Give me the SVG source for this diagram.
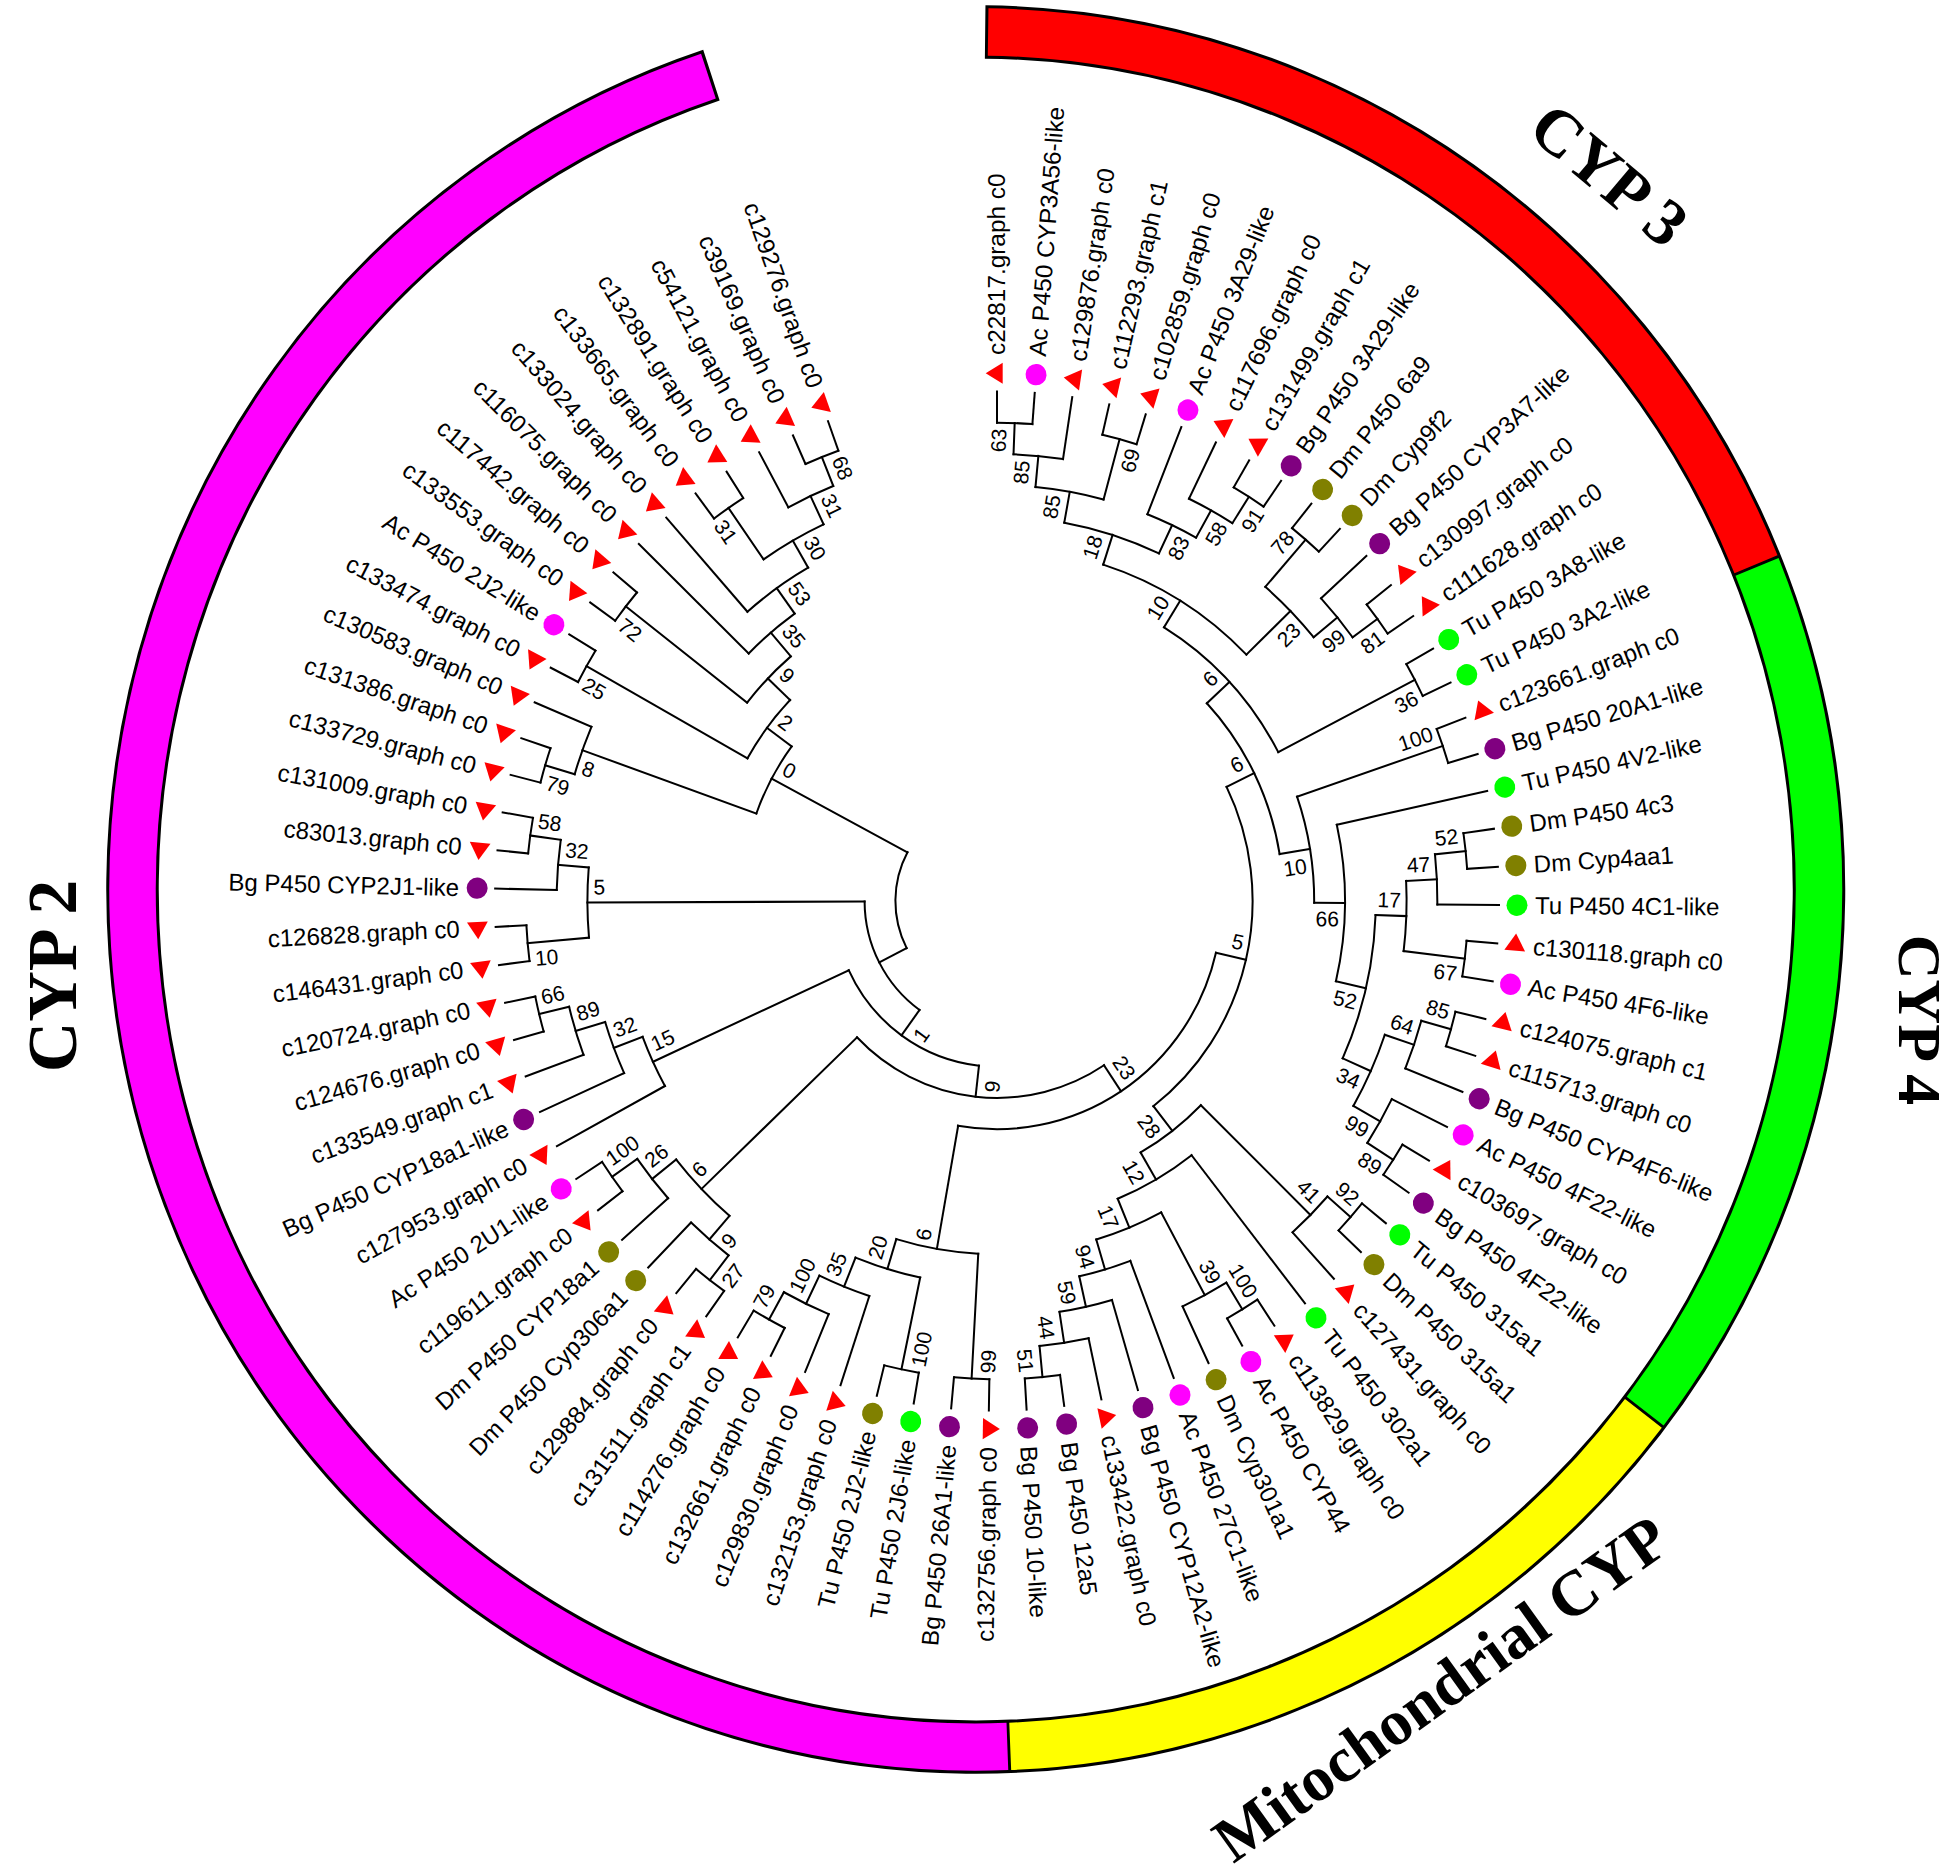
<svg xmlns="http://www.w3.org/2000/svg" xmlns:xlink="http://www.w3.org/1999/xlink" width="1955" height="1872" viewBox="0 0 1955 1872">
<style>
.c line,.c circle{fill:none;stroke:#000;stroke-width:2;stroke-linecap:square}
.lb{font-family:"Liberation Sans",Arial,sans-serif;font-size:24px;fill:#000}
.bs{font-family:"Liberation Sans",Arial,sans-serif;font-size:21px;fill:#000}
.en{text-anchor:end}
.st{text-anchor:start}
.m{fill:#f0f}.p{fill:#800080}.o{fill:#808000}.g{fill:#0f0}
.gt{font-family:"Liberation Serif","Times New Roman",serif;font-weight:bold;fill:#000;text-anchor:middle}
.rg circle{fill:none}
</style>
<defs>
<path id="tri" d="M0,-11.3 L10.4,5.7 L-10.4,5.7 Z" fill="#f00"/>
</defs>
<rect width="1955" height="1872" fill="#fff"/>
<g id="ring" class="rg" transform="translate(975.75 889.5) scale(1 1.017)">
<circle r="843.25" stroke="#000" stroke-width="52.5" stroke-dasharray="5019.5 9000" transform="rotate(-89.36)"/>
<circle r="843.25" stroke="#f00" stroke-width="46.5" stroke-dasharray="984 9000" transform="rotate(-89.16)"/>
<circle r="843.25" stroke="#0f0" stroke-width="46.5" stroke-dasharray="876.4 9000" transform="rotate(-22.1)"/>
<circle r="843.25" stroke="#ff0" stroke-width="46.5" stroke-dasharray="735.9 9000" transform="rotate(37.65)"/>
<circle r="843.25" stroke="#f0f" stroke-width="46.5" stroke-dasharray="2408.5 9000" transform="rotate(87.85)"/>
</g>
<g id="group-labels">
<text id="lab-cyp3" class="gt" font-size="66" dy=".33em" transform="translate(1609 175) rotate(40)">CYP 3</text>
<text id="lab-cyp4" class="gt" font-size="62" transform="translate(1899 1020) rotate(90)">CYP 4</text>
<text id="lab-cyp2" class="gt" font-size="70" transform="translate(76 976) rotate(-90)">CYP 2</text>
<text id="lab-mito" class="gt" font-size="64" dy=".33em" transform="translate(1441 1689) rotate(-35.7)">Mitochondrial CYP</text>
</g>
<g id="tree" transform="translate(997 901) scale(1 1.015)">
<g id="connectors" class="c">
<circle r="471.2" stroke-dasharray="35.43 4000" transform="rotate(-90)"/>
<line x1="471.2" x2="502" transform="rotate(-90)"/><line x1="471.2" x2="502" transform="rotate(-85.69)"/>
<circle r="440.4" stroke-dasharray="49.73 4000" transform="rotate(-87.85)"/>
<line x1="440.4" x2="471.2" transform="rotate(-87.85)"/><line x1="440.4" x2="502" transform="rotate(-81.38)"/>
<circle r="471.2" stroke-dasharray="35.43 4000" transform="rotate(-77.08)"/>
<line x1="471.2" x2="502" transform="rotate(-77.08)"/><line x1="471.2" x2="502" transform="rotate(-72.77)"/>
<circle r="409.6" stroke-dasharray="69.27 4000" transform="rotate(-84.61)"/>
<line x1="409.6" x2="440.4" transform="rotate(-84.61)"/><line x1="409.6" x2="471.2" transform="rotate(-74.92)"/>
<circle r="471.2" stroke-dasharray="35.43 4000" transform="rotate(-59.85)"/>
<line x1="471.2" x2="502" transform="rotate(-59.85)"/><line x1="471.2" x2="502" transform="rotate(-55.54)"/>
<circle r="440.4" stroke-dasharray="49.65 4000" transform="rotate(-64.15)"/>
<line x1="440.4" x2="502" transform="rotate(-64.15)"/><line x1="440.4" x2="471.2" transform="rotate(-57.69)"/>
<circle r="409.6" stroke-dasharray="53.90 4000" transform="rotate(-68.46)"/>
<line x1="409.6" x2="502" transform="rotate(-68.46)"/><line x1="409.6" x2="440.4" transform="rotate(-60.92)"/>
<circle r="378.8" stroke-dasharray="99.70 4000" transform="rotate(-79.77)"/>
<line x1="378.8" x2="409.6" transform="rotate(-79.77)"/><line x1="378.8" x2="409.6" transform="rotate(-64.69)"/>
<circle r="471.2" stroke-dasharray="35.43 4000" transform="rotate(-51.23)"/>
<line x1="471.2" x2="502" transform="rotate(-51.23)"/><line x1="471.2" x2="502" transform="rotate(-46.92)"/>
<circle r="471.2" stroke-dasharray="35.43 4000" transform="rotate(-38.31)"/>
<line x1="471.2" x2="502" transform="rotate(-38.31)"/><line x1="471.2" x2="502" transform="rotate(-34)"/>
<circle r="440.4" stroke-dasharray="49.73 4000" transform="rotate(-42.62)"/>
<line x1="440.4" x2="502" transform="rotate(-42.62)"/><line x1="440.4" x2="471.2" transform="rotate(-36.15)"/>
<circle r="409.6" stroke-dasharray="69.34 4000" transform="rotate(-49.08)"/>
<line x1="409.6" x2="471.2" transform="rotate(-49.08)"/><line x1="409.6" x2="440.4" transform="rotate(-39.38)"/>
<circle r="348" stroke-dasharray="170.06 4000" transform="rotate(-72.23)"/>
<line x1="348" x2="378.8" transform="rotate(-72.23)"/><line x1="348" x2="409.6" transform="rotate(-44.23)"/>
<circle r="471.2" stroke-dasharray="35.43 4000" transform="rotate(-29.69)"/>
<line x1="471.2" x2="502" transform="rotate(-29.69)"/><line x1="471.2" x2="502" transform="rotate(-25.38)"/>
<circle r="317.2" stroke-dasharray="169.91 4000" transform="rotate(-58.23)"/>
<line x1="317.2" x2="348" transform="rotate(-58.23)"/><line x1="317.2" x2="471.2" transform="rotate(-27.54)"/>
<circle r="471.2" stroke-dasharray="35.43 4000" transform="rotate(-21.08)"/>
<line x1="471.2" x2="502" transform="rotate(-21.08)"/><line x1="471.2" x2="502" transform="rotate(-16.77)"/>
<circle r="471.2" stroke-dasharray="35.43 4000" transform="rotate(-8.15)"/>
<line x1="471.2" x2="502" transform="rotate(-8.15)"/><line x1="471.2" x2="502" transform="rotate(-3.85)"/>
<circle r="440.4" stroke-dasharray="49.65 4000" transform="rotate(-6)"/>
<line x1="440.4" x2="471.2" transform="rotate(-6)"/><line x1="440.4" x2="502" transform="rotate(0.46)"/>
<circle r="471.2" stroke-dasharray="35.43 4000" transform="rotate(4.77)"/>
<line x1="471.2" x2="502" transform="rotate(4.77)"/><line x1="471.2" x2="502" transform="rotate(9.08)"/>
<circle r="409.6" stroke-dasharray="69.27 4000" transform="rotate(-2.77)"/>
<line x1="409.6" x2="440.4" transform="rotate(-2.77)"/><line x1="409.6" x2="471.2" transform="rotate(6.92)"/>
<circle r="471.2" stroke-dasharray="35.43 4000" transform="rotate(13.38)"/>
<line x1="471.2" x2="502" transform="rotate(13.38)"/><line x1="471.2" x2="502" transform="rotate(17.69)"/>
<circle r="440.4" stroke-dasharray="49.65 4000" transform="rotate(15.54)"/>
<line x1="440.4" x2="471.2" transform="rotate(15.54)"/><line x1="440.4" x2="502" transform="rotate(22)"/>
<circle r="471.2" stroke-dasharray="35.43 4000" transform="rotate(30.62)"/>
<line x1="471.2" x2="502" transform="rotate(30.62)"/><line x1="471.2" x2="502" transform="rotate(34.92)"/>
<circle r="440.4" stroke-dasharray="49.65 4000" transform="rotate(26.31)"/>
<line x1="440.4" x2="502" transform="rotate(26.31)"/><line x1="440.4" x2="471.2" transform="rotate(32.77)"/>
<circle r="409.6" stroke-dasharray="76.99 4000" transform="rotate(18.77)"/>
<line x1="409.6" x2="440.4" transform="rotate(18.77)"/><line x1="409.6" x2="440.4" transform="rotate(29.54)"/>
<circle r="378.8" stroke-dasharray="145.91 4000" transform="rotate(2.08)"/>
<line x1="378.8" x2="409.6" transform="rotate(2.08)"/><line x1="378.8" x2="409.6" transform="rotate(24.15)"/>
<circle r="348" stroke-dasharray="155.37 4000" transform="rotate(-12.46)"/>
<line x1="348" x2="502" transform="rotate(-12.46)"/><line x1="348" x2="378.8" transform="rotate(13.12)"/>
<circle r="317.2" stroke-dasharray="106.57 4000" transform="rotate(-18.92)"/>
<line x1="317.2" x2="471.2" transform="rotate(-18.92)"/><line x1="317.2" x2="348" transform="rotate(0.33)"/>
<circle r="286.4" stroke-dasharray="167.85 4000" transform="rotate(-42.88)"/>
<line x1="286.4" x2="317.2" transform="rotate(-42.88)"/><line x1="286.4" x2="317.2" transform="rotate(-9.3)"/>
<circle r="471.2" stroke-dasharray="35.43 4000" transform="rotate(39.23)"/>
<line x1="471.2" x2="502" transform="rotate(39.23)"/><line x1="471.2" x2="502" transform="rotate(43.54)"/>
<circle r="440.4" stroke-dasharray="49.73 4000" transform="rotate(41.38)"/>
<line x1="440.4" x2="471.2" transform="rotate(41.38)"/><line x1="440.4" x2="502" transform="rotate(47.85)"/>
<circle r="471.2" stroke-dasharray="35.43 4000" transform="rotate(82.31)"/>
<line x1="471.2" x2="502" transform="rotate(82.31)"/><line x1="471.2" x2="502" transform="rotate(86.62)"/>
<circle r="440.4" stroke-dasharray="49.65 4000" transform="rotate(78)"/>
<line x1="440.4" x2="502" transform="rotate(78)"/><line x1="440.4" x2="471.2" transform="rotate(84.46)"/>
<circle r="409.6" stroke-dasharray="53.83 4000" transform="rotate(73.7)"/>
<line x1="409.6" x2="502" transform="rotate(73.7)"/><line x1="409.6" x2="440.4" transform="rotate(81.23)"/>
<circle r="378.8" stroke-dasharray="53.35 4000" transform="rotate(69.39)"/>
<line x1="378.8" x2="502" transform="rotate(69.39)"/><line x1="378.8" x2="409.6" transform="rotate(77.46)"/>
<circle r="471.2" stroke-dasharray="35.43 4000" transform="rotate(56.46)"/>
<line x1="471.2" x2="502" transform="rotate(56.46)"/><line x1="471.2" x2="502" transform="rotate(60.77)"/>
<circle r="440.4" stroke-dasharray="49.65 4000" transform="rotate(58.62)"/>
<line x1="440.4" x2="471.2" transform="rotate(58.62)"/><line x1="440.4" x2="502" transform="rotate(65.08)"/>
<circle r="348" stroke-dasharray="70.33 4000" transform="rotate(61.85)"/>
<line x1="348" x2="440.4" transform="rotate(61.85)"/><line x1="348" x2="378.8" transform="rotate(73.43)"/>
<circle r="317.2" stroke-dasharray="85.70 4000" transform="rotate(52.16)"/>
<line x1="317.2" x2="502" transform="rotate(52.16)"/><line x1="317.2" x2="348" transform="rotate(67.64)"/>
<circle r="286.4" stroke-dasharray="76.38 4000" transform="rotate(44.62)"/>
<line x1="286.4" x2="440.4" transform="rotate(44.62)"/><line x1="286.4" x2="317.2" transform="rotate(59.9)"/>
<circle r="255.6" stroke-dasharray="349.53 4000" transform="rotate(-26.09)"/>
<line x1="255.6" x2="286.4" transform="rotate(-26.09)"/><line x1="255.6" x2="286.4" transform="rotate(52.26)"/>
<circle r="471.2" stroke-dasharray="35.43 4000" transform="rotate(90.93)"/>
<line x1="471.2" x2="502" transform="rotate(90.93)"/><line x1="471.2" x2="502" transform="rotate(95.24)"/>
<circle r="471.2" stroke-dasharray="35.43 4000" transform="rotate(99.55)"/>
<line x1="471.2" x2="502" transform="rotate(99.55)"/><line x1="471.2" x2="502" transform="rotate(103.85)"/>
<circle r="471.2" stroke-dasharray="35.43 4000" transform="rotate(116.78)"/>
<line x1="471.2" x2="502" transform="rotate(116.78)"/><line x1="471.2" x2="502" transform="rotate(121.09)"/>
<circle r="440.4" stroke-dasharray="49.73 4000" transform="rotate(112.47)"/>
<line x1="440.4" x2="502" transform="rotate(112.47)"/><line x1="440.4" x2="471.2" transform="rotate(118.94)"/>
<circle r="409.6" stroke-dasharray="53.90 4000" transform="rotate(108.16)"/>
<line x1="409.6" x2="502" transform="rotate(108.16)"/><line x1="409.6" x2="440.4" transform="rotate(115.7)"/>
<circle r="378.8" stroke-dasharray="67.63 4000" transform="rotate(101.7)"/>
<line x1="378.8" x2="471.2" transform="rotate(101.7)"/><line x1="378.8" x2="409.6" transform="rotate(111.93)"/>
<circle r="348" stroke-dasharray="83.39 4000" transform="rotate(93.09)"/>
<line x1="348" x2="471.2" transform="rotate(93.09)"/><line x1="348" x2="378.8" transform="rotate(106.82)"/>
<circle r="224.8" stroke-dasharray="340.80 4000" transform="rotate(13.09)"/>
<line x1="224.8" x2="255.6" transform="rotate(13.09)"/><line x1="224.8" x2="348" transform="rotate(99.95)"/>
<circle r="471.2" stroke-dasharray="35.43 4000" transform="rotate(125.39)"/>
<line x1="471.2" x2="502" transform="rotate(125.39)"/><line x1="471.2" x2="502" transform="rotate(129.7)"/>
<circle r="440.4" stroke-dasharray="49.65 4000" transform="rotate(127.55)"/>
<line x1="440.4" x2="471.2" transform="rotate(127.55)"/><line x1="440.4" x2="502" transform="rotate(134.01)"/>
<circle r="471.2" stroke-dasharray="35.43 4000" transform="rotate(142.63)"/>
<line x1="471.2" x2="502" transform="rotate(142.63)"/><line x1="471.2" x2="502" transform="rotate(146.94)"/>
<circle r="440.4" stroke-dasharray="49.65 4000" transform="rotate(138.32)"/>
<line x1="440.4" x2="502" transform="rotate(138.32)"/><line x1="440.4" x2="471.2" transform="rotate(144.78)"/>
<circle r="409.6" stroke-dasharray="76.99 4000" transform="rotate(130.78)"/>
<line x1="409.6" x2="440.4" transform="rotate(130.78)"/><line x1="409.6" x2="440.4" transform="rotate(141.55)"/>
<circle r="194" stroke-dasharray="269.69 4000" transform="rotate(56.52)"/>
<line x1="194" x2="224.8" transform="rotate(56.52)"/><line x1="194" x2="409.6" transform="rotate(136.17)"/>
<circle r="471.2" stroke-dasharray="35.43 4000" transform="rotate(164.17)"/>
<line x1="471.2" x2="502" transform="rotate(164.17)"/><line x1="471.2" x2="502" transform="rotate(168.48)"/>
<circle r="440.4" stroke-dasharray="49.65 4000" transform="rotate(159.86)"/>
<line x1="440.4" x2="502" transform="rotate(159.86)"/><line x1="440.4" x2="471.2" transform="rotate(166.32)"/>
<circle r="409.6" stroke-dasharray="53.90 4000" transform="rotate(155.55)"/>
<line x1="409.6" x2="502" transform="rotate(155.55)"/><line x1="409.6" x2="440.4" transform="rotate(163.09)"/>
<circle r="378.8" stroke-dasharray="53.42 4000" transform="rotate(151.24)"/>
<line x1="378.8" x2="502" transform="rotate(151.24)"/><line x1="378.8" x2="409.6" transform="rotate(159.32)"/>
<circle r="163.2" stroke-dasharray="167.88 4000" transform="rotate(96.34)"/>
<line x1="163.2" x2="194" transform="rotate(96.34)"/><line x1="163.2" x2="378.8" transform="rotate(155.28)"/>
<circle r="471.2" stroke-dasharray="35.43 4000" transform="rotate(172.78)"/>
<line x1="471.2" x2="502" transform="rotate(172.78)"/><line x1="471.2" x2="502" transform="rotate(177.09)"/>
<circle r="471.2" stroke-dasharray="35.43 4000" transform="rotate(185.71)"/>
<line x1="471.2" x2="502" transform="rotate(185.71)"/><line x1="471.2" x2="502" transform="rotate(190.02)"/>
<circle r="440.4" stroke-dasharray="49.73 4000" transform="rotate(181.4)"/>
<line x1="440.4" x2="502" transform="rotate(181.4)"/><line x1="440.4" x2="471.2" transform="rotate(187.87)"/>
<circle r="409.6" stroke-dasharray="69.27 4000" transform="rotate(174.94)"/>
<line x1="409.6" x2="471.2" transform="rotate(174.94)"/><line x1="409.6" x2="440.4" transform="rotate(184.63)"/>
<circle r="132.4" stroke-dasharray="124.74 4000" transform="rotate(125.81)"/>
<line x1="132.4" x2="163.2" transform="rotate(125.81)"/><line x1="132.4" x2="409.6" transform="rotate(179.79)"/>
<circle r="471.2" stroke-dasharray="35.43 4000" transform="rotate(194.33)"/>
<line x1="471.2" x2="502" transform="rotate(194.33)"/><line x1="471.2" x2="502" transform="rotate(198.63)"/>
<circle r="440.4" stroke-dasharray="49.65 4000" transform="rotate(196.48)"/>
<line x1="440.4" x2="471.2" transform="rotate(196.48)"/><line x1="440.4" x2="502" transform="rotate(202.94)"/>
<circle r="471.2" stroke-dasharray="35.43 4000" transform="rotate(207.25)"/>
<line x1="471.2" x2="502" transform="rotate(207.25)"/><line x1="471.2" x2="502" transform="rotate(211.56)"/>
<circle r="471.2" stroke-dasharray="35.43 4000" transform="rotate(215.87)"/>
<line x1="471.2" x2="502" transform="rotate(215.87)"/><line x1="471.2" x2="502" transform="rotate(220.17)"/>
<circle r="471.2" stroke-dasharray="35.43 4000" transform="rotate(233.1)"/>
<line x1="471.2" x2="502" transform="rotate(233.1)"/><line x1="471.2" x2="502" transform="rotate(237.41)"/>
<circle r="471.2" stroke-dasharray="35.43 4000" transform="rotate(246.02)"/>
<line x1="471.2" x2="502" transform="rotate(246.02)"/><line x1="471.2" x2="502" transform="rotate(250.33)"/>
<circle r="440.4" stroke-dasharray="49.65 4000" transform="rotate(241.72)"/>
<line x1="440.4" x2="502" transform="rotate(241.72)"/><line x1="440.4" x2="471.2" transform="rotate(248.18)"/>
<circle r="409.6" stroke-dasharray="69.27 4000" transform="rotate(235.26)"/>
<line x1="409.6" x2="471.2" transform="rotate(235.26)"/><line x1="409.6" x2="440.4" transform="rotate(244.95)"/>
<circle r="378.8" stroke-dasharray="74.77 4000" transform="rotate(228.79)"/>
<line x1="378.8" x2="502" transform="rotate(228.79)"/><line x1="378.8" x2="409.6" transform="rotate(240.1)"/>
<circle r="348" stroke-dasharray="60.55 4000" transform="rotate(224.48)"/>
<line x1="348" x2="502" transform="rotate(224.48)"/><line x1="348" x2="378.8" transform="rotate(234.45)"/>
<circle r="317.2" stroke-dasharray="63.33 4000" transform="rotate(218.02)"/>
<line x1="317.2" x2="471.2" transform="rotate(218.02)"/><line x1="317.2" x2="348" transform="rotate(229.46)"/>
<circle r="286.4" stroke-dasharray="71.68 4000" transform="rotate(209.4)"/>
<line x1="286.4" x2="471.2" transform="rotate(209.4)"/><line x1="286.4" x2="317.2" transform="rotate(223.74)"/>
<circle r="255.6" stroke-dasharray="75.21 4000" transform="rotate(199.71)"/>
<line x1="255.6" x2="440.4" transform="rotate(199.71)"/><line x1="255.6" x2="286.4" transform="rotate(216.57)"/>
<circle r="101.6" stroke-dasharray="98.13 4000" transform="rotate(152.8)"/>
<line x1="101.6" x2="132.4" transform="rotate(152.8)"/><line x1="101.6" x2="255.6" transform="rotate(208.14)"/>
</g>
<g id="leaves">
<g id="L1" transform="rotate(-90)"><use xlink:href="#tri" x="520"/><text class="lb" x="538" dy=".35em">c22817.graph c0</text></g>
<g id="L2" transform="rotate(-85.69)"><circle class="m" cx="520" r="10.5"/><text class="lb" x="538" dy=".35em">Ac P450 CYP3A56-like</text></g>
<g id="L3" transform="rotate(-81.38)"><use xlink:href="#tri" x="520"/><text class="lb" x="538" dy=".35em">c129876.graph c0</text></g>
<g id="L4" transform="rotate(-77.08)"><use xlink:href="#tri" x="520"/><text class="lb" x="538" dy=".35em">c112293.graph c1</text></g>
<g id="L5" transform="rotate(-72.77)"><use xlink:href="#tri" x="520"/><text class="lb" x="538" dy=".35em">c102859.graph c0</text></g>
<g id="L6" transform="rotate(-68.46)"><circle class="m" cx="520" r="10.5"/><text class="lb" x="538" dy=".35em">Ac P450 3A29-like</text></g>
<g id="L7" transform="rotate(-64.15)"><use xlink:href="#tri" x="520"/><text class="lb" x="538" dy=".35em">c117696.graph c0</text></g>
<g id="L8" transform="rotate(-59.85)"><use xlink:href="#tri" x="520"/><text class="lb" x="538" dy=".35em">c131499.graph c1</text></g>
<g id="L9" transform="rotate(-55.54)"><circle class="p" cx="520" r="10.5"/><text class="lb" x="538" dy=".35em">Bg P450 3A29-like</text></g>
<g id="L10" transform="rotate(-51.23)"><circle class="o" cx="520" r="10.5"/><text class="lb" x="538" dy=".35em">Dm P450 6a9</text></g>
<g id="L11" transform="rotate(-46.92)"><circle class="o" cx="520" r="10.5"/><text class="lb" x="538" dy=".35em">Dm Cyp9f2</text></g>
<g id="L12" transform="rotate(-42.62)"><circle class="p" cx="520" r="10.5"/><text class="lb" x="538" dy=".35em">Bg P450 CYP3A7-like</text></g>
<g id="L13" transform="rotate(-38.31)"><use xlink:href="#tri" x="520"/><text class="lb" x="538" dy=".35em">c130997.graph c0</text></g>
<g id="L14" transform="rotate(-34)"><use xlink:href="#tri" x="520"/><text class="lb" x="538" dy=".35em">c111628.graph c0</text></g>
<g id="L15" transform="rotate(-29.69)"><circle class="g" cx="520" r="10.5"/><text class="lb" x="538" dy=".35em">Tu P450 3A8-like</text></g>
<g id="L16" transform="rotate(-25.38)"><circle class="g" cx="520" r="10.5"/><text class="lb" x="538" dy=".35em">Tu P450 3A2-like</text></g>
<g id="L17" transform="rotate(-21.08)"><use xlink:href="#tri" x="520"/><text class="lb" x="538" dy=".35em">c123661.graph c0</text></g>
<g id="L18" transform="rotate(-16.77)"><circle class="p" cx="520" r="10.5"/><text class="lb" x="538" dy=".35em">Bg P450 20A1-like</text></g>
<g id="L19" transform="rotate(-12.46)"><circle class="g" cx="520" r="10.5"/><text class="lb" x="538" dy=".35em">Tu P450 4V2-like</text></g>
<g id="L20" transform="rotate(-8.15)"><circle class="o" cx="520" r="10.5"/><text class="lb" x="538" dy=".35em">Dm P450 4c3</text></g>
<g id="L21" transform="rotate(-3.85)"><circle class="o" cx="520" r="10.5"/><text class="lb" x="538" dy=".35em">Dm Cyp4aa1</text></g>
<g id="L22" transform="rotate(0.46)"><circle class="g" cx="520" r="10.5"/><text class="lb" x="538" dy=".35em">Tu P450 4C1-like</text></g>
<g id="L23" transform="rotate(4.77)"><use xlink:href="#tri" x="520"/><text class="lb" x="538" dy=".35em">c130118.graph c0</text></g>
<g id="L24" transform="rotate(9.08)"><circle class="m" cx="520" r="10.5"/><text class="lb" x="538" dy=".35em">Ac P450 4F6-like</text></g>
<g id="L25" transform="rotate(13.38)"><use xlink:href="#tri" x="520"/><text class="lb" x="538" dy=".35em">c124075.graph c1</text></g>
<g id="L26" transform="rotate(17.69)"><use xlink:href="#tri" x="520"/><text class="lb" x="538" dy=".35em">c115713.graph c0</text></g>
<g id="L27" transform="rotate(22)"><circle class="p" cx="520" r="10.5"/><text class="lb" x="538" dy=".35em">Bg P450 CYP4F6-like</text></g>
<g id="L28" transform="rotate(26.31)"><circle class="m" cx="520" r="10.5"/><text class="lb" x="538" dy=".35em">Ac P450 4F22-like</text></g>
<g id="L29" transform="rotate(30.62)"><use xlink:href="#tri" x="520"/><text class="lb" x="538" dy=".35em">c103697.graph c0</text></g>
<g id="L30" transform="rotate(34.92)"><circle class="p" cx="520" r="10.5"/><text class="lb" x="538" dy=".35em">Bg P450 4F22-like</text></g>
<g id="L31" transform="rotate(39.23)"><circle class="g" cx="520" r="10.5"/><text class="lb" x="538" dy=".35em">Tu P450 315a1</text></g>
<g id="L32" transform="rotate(43.54)"><circle class="o" cx="520" r="10.5"/><text class="lb" x="538" dy=".35em">Dm P450 315a1</text></g>
<g id="L33" transform="rotate(47.85)"><use xlink:href="#tri" x="520"/><text class="lb" x="538" dy=".35em">c127431.graph c0</text></g>
<g id="L34" transform="rotate(52.16)"><circle class="g" cx="520" r="10.5"/><text class="lb" x="538" dy=".35em">Tu P450 302a1</text></g>
<g id="L35" transform="rotate(56.46)"><use xlink:href="#tri" x="520"/><text class="lb" x="538" dy=".35em">c113829.graph c0</text></g>
<g id="L36" transform="rotate(60.77)"><circle class="m" cx="520" r="10.5"/><text class="lb" x="538" dy=".35em">Ac P450 CYP44</text></g>
<g id="L37" transform="rotate(65.08)"><circle class="o" cx="520" r="10.5"/><text class="lb" x="538" dy=".35em">Dm Cyp301a1</text></g>
<g id="L38" transform="rotate(69.39)"><circle class="m" cx="520" r="10.5"/><text class="lb" x="538" dy=".35em">Ac P450 27C1-like</text></g>
<g id="L39" transform="rotate(73.7)"><circle class="p" cx="520" r="10.5"/><text class="lb" x="538" dy=".35em">Bg P450 CYP12A2-like</text></g>
<g id="L40" transform="rotate(78)"><use xlink:href="#tri" x="520"/><text class="lb" x="538" dy=".35em">c133422.graph c0</text></g>
<g id="L41" transform="rotate(82.31)"><circle class="p" cx="520" r="10.5"/><text class="lb" x="538" dy=".35em">Bg P450 12a5</text></g>
<g id="L42" transform="rotate(86.62)"><circle class="p" cx="520" r="10.5"/><text class="lb" x="538" dy=".35em">Bg P450 10-like</text></g>
<g id="L43" transform="rotate(90.93)"><use xlink:href="#tri" x="520"/><text class="lb en" transform="rotate(180)" x="-538" dy=".35em">c132756.graph c0</text></g>
<g id="L44" transform="rotate(95.24)"><circle class="p" cx="520" r="10.5"/><text class="lb en" transform="rotate(180)" x="-538" dy=".35em">Bg P450 26A1-like</text></g>
<g id="L45" transform="rotate(99.55)"><circle class="g" cx="520" r="10.5"/><text class="lb en" transform="rotate(180)" x="-538" dy=".35em">Tu P450 2J6-like</text></g>
<g id="L46" transform="rotate(103.85)"><circle class="o" cx="520" r="10.5"/><text class="lb en" transform="rotate(180)" x="-538" dy=".35em">Tu P450 2J2-like</text></g>
<g id="L47" transform="rotate(108.16)"><use xlink:href="#tri" x="520"/><text class="lb en" transform="rotate(180)" x="-538" dy=".35em">c132153.graph c0</text></g>
<g id="L48" transform="rotate(112.47)"><use xlink:href="#tri" x="520"/><text class="lb en" transform="rotate(180)" x="-538" dy=".35em">c129830.graph c0</text></g>
<g id="L49" transform="rotate(116.78)"><use xlink:href="#tri" x="520"/><text class="lb en" transform="rotate(180)" x="-538" dy=".35em">c132661.graph c0</text></g>
<g id="L50" transform="rotate(121.09)"><use xlink:href="#tri" x="520"/><text class="lb en" transform="rotate(180)" x="-538" dy=".35em">c114276.graph c0</text></g>
<g id="L51" transform="rotate(125.39)"><use xlink:href="#tri" x="520"/><text class="lb en" transform="rotate(180)" x="-538" dy=".35em">c131511.graph c1</text></g>
<g id="L52" transform="rotate(129.7)"><use xlink:href="#tri" x="520"/><text class="lb en" transform="rotate(180)" x="-538" dy=".35em">c129884.graph c0</text></g>
<g id="L53" transform="rotate(134.01)"><circle class="o" cx="520" r="10.5"/><text class="lb en" transform="rotate(180)" x="-538" dy=".35em">Dm P450 Cyp306a1</text></g>
<g id="L54" transform="rotate(138.32)"><circle class="o" cx="520" r="10.5"/><text class="lb en" transform="rotate(180)" x="-538" dy=".35em">Dm P450 CYP18a1</text></g>
<g id="L55" transform="rotate(142.63)"><use xlink:href="#tri" x="520"/><text class="lb en" transform="rotate(180)" x="-538" dy=".35em">c119611.graph c0</text></g>
<g id="L56" transform="rotate(146.94)"><circle class="m" cx="520" r="10.5"/><text class="lb en" transform="rotate(180)" x="-538" dy=".35em">Ac P450 2U1-like</text></g>
<g id="L57" transform="rotate(151.24)"><use xlink:href="#tri" x="520"/><text class="lb en" transform="rotate(180)" x="-538" dy=".35em">c127953.graph c0</text></g>
<g id="L58" transform="rotate(155.55)"><circle class="p" cx="520" r="10.5"/><text class="lb en" transform="rotate(180)" x="-538" dy=".35em">Bg P450 CYP18a1-like</text></g>
<g id="L59" transform="rotate(159.86)"><use xlink:href="#tri" x="520"/><text class="lb en" transform="rotate(180)" x="-538" dy=".35em">c133549.graph c1</text></g>
<g id="L60" transform="rotate(164.17)"><use xlink:href="#tri" x="520"/><text class="lb en" transform="rotate(180)" x="-538" dy=".35em">c124676.graph c0</text></g>
<g id="L61" transform="rotate(168.48)"><use xlink:href="#tri" x="520"/><text class="lb en" transform="rotate(180)" x="-538" dy=".35em">c120724.graph c0</text></g>
<g id="L62" transform="rotate(172.78)"><use xlink:href="#tri" x="520"/><text class="lb en" transform="rotate(180)" x="-538" dy=".35em">c146431.graph c0</text></g>
<g id="L63" transform="rotate(177.09)"><use xlink:href="#tri" x="520"/><text class="lb en" transform="rotate(180)" x="-538" dy=".35em">c126828.graph c0</text></g>
<g id="L64" transform="rotate(181.4)"><circle class="p" cx="520" r="10.5"/><text class="lb en" transform="rotate(180)" x="-538" dy=".35em">Bg P450 CYP2J1-like</text></g>
<g id="L65" transform="rotate(185.71)"><use xlink:href="#tri" x="520"/><text class="lb en" transform="rotate(180)" x="-538" dy=".35em">c83013.graph c0</text></g>
<g id="L66" transform="rotate(190.02)"><use xlink:href="#tri" x="520"/><text class="lb en" transform="rotate(180)" x="-538" dy=".35em">c131009.graph c0</text></g>
<g id="L67" transform="rotate(194.33)"><use xlink:href="#tri" x="520"/><text class="lb en" transform="rotate(180)" x="-538" dy=".35em">c133729.graph c0</text></g>
<g id="L68" transform="rotate(198.63)"><use xlink:href="#tri" x="520"/><text class="lb en" transform="rotate(180)" x="-538" dy=".35em">c131386.graph c0</text></g>
<g id="L69" transform="rotate(202.94)"><use xlink:href="#tri" x="520"/><text class="lb en" transform="rotate(180)" x="-538" dy=".35em">c130583.graph c0</text></g>
<g id="L70" transform="rotate(207.25)"><use xlink:href="#tri" x="520"/><text class="lb en" transform="rotate(180)" x="-538" dy=".35em">c133474.graph c0</text></g>
<g id="L71" transform="rotate(211.56)"><circle class="m" cx="520" r="10.5"/><text class="lb en" transform="rotate(180)" x="-538" dy=".35em">Ac P450 2J2-like</text></g>
<g id="L72" transform="rotate(215.87)"><use xlink:href="#tri" x="520"/><text class="lb en" transform="rotate(180)" x="-538" dy=".35em">c133553.graph c0</text></g>
<g id="L73" transform="rotate(220.17)"><use xlink:href="#tri" x="520"/><text class="lb en" transform="rotate(180)" x="-538" dy=".35em">c117442.graph c0</text></g>
<g id="L74" transform="rotate(224.48)"><use xlink:href="#tri" x="520"/><text class="lb en" transform="rotate(180)" x="-538" dy=".35em">c116075.graph c0</text></g>
<g id="L75" transform="rotate(228.79)"><use xlink:href="#tri" x="520"/><text class="lb en" transform="rotate(180)" x="-538" dy=".35em">c133024.graph c0</text></g>
<g id="L76" transform="rotate(233.1)"><use xlink:href="#tri" x="520"/><text class="lb en" transform="rotate(180)" x="-538" dy=".35em">c133665.graph c0</text></g>
<g id="L77" transform="rotate(237.41)"><use xlink:href="#tri" x="520"/><text class="lb en" transform="rotate(180)" x="-538" dy=".35em">c132891.graph c0</text></g>
<g id="L78" transform="rotate(241.72)"><use xlink:href="#tri" x="520"/><text class="lb en" transform="rotate(180)" x="-538" dy=".35em">c54121.graph c0</text></g>
<g id="L79" transform="rotate(246.02)"><use xlink:href="#tri" x="520"/><text class="lb en" transform="rotate(180)" x="-538" dy=".35em">c39169.graph c0</text></g>
<g id="L80" transform="rotate(250.33)"><use xlink:href="#tri" x="520"/><text class="lb en" transform="rotate(180)" x="-538" dy=".35em">c129276.graph c0</text></g>
</g>
<g id="bootstrap">
<g id="n63" transform="rotate(-87.85)"><text class="bs en" x="465.2" y="-8">63</text></g>
<g id="n85a" transform="rotate(-84.61)"><text class="bs en" x="434.4" y="-8">85</text></g>
<g id="n69" transform="rotate(-74.92)"><text class="bs en" x="465.2" y="23">69</text></g>
<g id="n85b" transform="rotate(-79.77)"><text class="bs en" x="403.6" y="-8">85</text></g>
<g id="n91" transform="rotate(-57.69)"><text class="bs en" x="465.2" y="23">91</text></g>
<g id="n58" transform="rotate(-60.92)"><text class="bs en" x="434.4" y="23">58</text></g>
<g id="n83" transform="rotate(-64.69)"><text class="bs en" x="403.6" y="23">83</text></g>
<g id="n18" transform="rotate(-72.23)"><text class="bs en" x="372.8" y="-8">18</text></g>
<g id="n78" transform="rotate(-49.08)"><text class="bs en" x="465.2" y="-8">78</text></g>
<g id="n81" transform="rotate(-36.15)"><text class="bs en" x="465.2" y="23">81</text></g>
<g id="n99a" transform="rotate(-39.38)"><text class="bs en" x="434.4" y="23">99</text></g>
<g id="n23a" transform="rotate(-44.23)"><text class="bs en" x="403.6" y="23">23</text></g>
<g id="n10a" transform="rotate(-58.23)"><text class="bs en" x="342" y="-8">10</text></g>
<g id="n36" transform="rotate(-27.54)"><text class="bs en" x="465.2" y="23">36</text></g>
<g id="n6u" transform="rotate(-42.88)"><text class="bs en" x="311.2" y="-8">6</text></g>
<g id="n100a" transform="rotate(-18.92)"><text class="bs en" x="465.2" y="-8">100</text></g>
<g id="n52a" transform="rotate(-6)"><text class="bs en" x="465.2" y="-8">52</text></g>
<g id="n47" transform="rotate(-2.77)"><text class="bs en" x="434.4" y="-8">47</text></g>
<g id="n67" transform="rotate(6.92)"><text class="bs en" x="465.2" y="23">67</text></g>
<g id="n17" transform="rotate(2.08)"><text class="bs en" x="403.6" y="-8">17</text></g>
<g id="n85c" transform="rotate(15.54)"><text class="bs en" x="465.2" y="-8">85</text></g>
<g id="n64" transform="rotate(18.77)"><text class="bs en" x="434.4" y="-8">64</text></g>
<g id="n89" transform="rotate(32.77)"><text class="bs en" x="465.2" y="23">89</text></g>
<g id="n99b" transform="rotate(29.54)"><text class="bs en" x="434.4" y="23">99</text></g>
<g id="n34" transform="rotate(24.15)"><text class="bs en" x="403.6" y="23">34</text></g>
<g id="n52b" transform="rotate(13.12)"><text class="bs en" x="372.8" y="23">52</text></g>
<g id="n66" transform="rotate(0.33)"><text class="bs en" x="342" y="23">66</text></g>
<g id="n10b" transform="rotate(-9.3)"><text class="bs en" x="311.2" y="23">10</text></g>
<g id="n6l" transform="rotate(-26.09)"><text class="bs en" x="280.4" y="-8">6</text></g>
<g id="n92" transform="rotate(41.38)"><text class="bs en" x="465.2" y="-8">92</text></g>
<g id="n41" transform="rotate(44.62)"><text class="bs en" x="434.4" y="-8">41</text></g>
<g id="n51" transform="rotate(84.46)"><text class="bs en" x="465.2" y="23">51</text></g>
<g id="n44" transform="rotate(81.23)"><text class="bs en" x="434.4" y="23">44</text></g>
<g id="n59" transform="rotate(77.46)"><text class="bs en" x="403.6" y="23">59</text></g>
<g id="n94" transform="rotate(73.43)"><text class="bs en" x="372.8" y="23">94</text></g>
<g id="n100e" transform="rotate(58.62)"><text class="bs en" x="465.2" y="-8">100</text></g>
<g id="n39" transform="rotate(61.85)"><text class="bs en" x="434.4" y="-8">39</text></g>
<g id="n17m" transform="rotate(67.64)"><text class="bs en" x="342" y="23">17</text></g>
<g id="n12" transform="rotate(59.9)"><text class="bs en" x="311.2" y="23">12</text></g>
<g id="n28" transform="rotate(52.26)"><text class="bs en" x="280.4" y="23">28</text></g>
<g id="n5m" transform="rotate(13.09)"><text class="bs en" x="249.6" y="-8">5</text></g>
<g id="n23" transform="rotate(56.52)"><text class="bs en" x="218.8" y="-8">23</text></g>
<g id="n99c" transform="rotate(93.09)"><text class="bs st" transform="rotate(180)" x="-465.2" y="23">99</text></g>
<g id="n100b" transform="rotate(101.7)"><text class="bs st" transform="rotate(180)" x="-465.2" y="23">100</text></g>
<g id="n79" transform="rotate(118.94)"><text class="bs st" transform="rotate(180)" x="-465.2" y="-8">79</text></g>
<g id="n100c" transform="rotate(115.7)"><text class="bs st" transform="rotate(180)" x="-434.4" y="-8">100</text></g>
<g id="n35" transform="rotate(111.93)"><text class="bs st" transform="rotate(180)" x="-403.6" y="-8">35</text></g>
<g id="n20" transform="rotate(106.82)"><text class="bs st" transform="rotate(180)" x="-372.8" y="-8">20</text></g>
<g id="n6m" transform="rotate(99.95)"><text class="bs st" transform="rotate(180)" x="-342" y="-8">6</text></g>
<g id="n9" transform="rotate(96.34)"><text class="bs st" transform="rotate(180)" x="-188" y="23">9</text></g>
<g id="n27" transform="rotate(127.55)"><text class="bs st" transform="rotate(180)" x="-465.2" y="23">27</text></g>
<g id="n9b" transform="rotate(130.78)"><text class="bs st" transform="rotate(180)" x="-434.4" y="23">9</text></g>
<g id="n100d" transform="rotate(144.78)"><text class="bs st" transform="rotate(180)" x="-465.2" y="-8">100</text></g>
<g id="n26" transform="rotate(141.55)"><text class="bs st" transform="rotate(180)" x="-434.4" y="-8">26</text></g>
<g id="n6c" transform="rotate(136.17)"><text class="bs st" transform="rotate(180)" x="-403.6" y="-8">6</text></g>
<g id="n66b" transform="rotate(166.32)"><text class="bs st" transform="rotate(180)" x="-465.2" y="-8">66</text></g>
<g id="n89b" transform="rotate(163.09)"><text class="bs st" transform="rotate(180)" x="-434.4" y="-8">89</text></g>
<g id="n32b" transform="rotate(159.32)"><text class="bs st" transform="rotate(180)" x="-403.6" y="-8">32</text></g>
<g id="n15" transform="rotate(155.28)"><text class="bs st" transform="rotate(180)" x="-372.8" y="-8">15</text></g>
<g id="n1" transform="rotate(125.81)"><text class="bs st" transform="rotate(180)" x="-157.2" y="23">1</text></g>
<g id="n10c" transform="rotate(174.94)"><text class="bs st" transform="rotate(180)" x="-465.2" y="23">10</text></g>
<g id="n58b" transform="rotate(187.87)"><text class="bs st" transform="rotate(180)" x="-465.2" y="-8">58</text></g>
<g id="n32c" transform="rotate(184.63)"><text class="bs st" transform="rotate(180)" x="-434.4" y="-8">32</text></g>
<g id="n5c" transform="rotate(179.79)"><text class="bs st" transform="rotate(180)" x="-403.6" y="-8">5</text></g>
<g id="n79b" transform="rotate(196.48)"><text class="bs st" transform="rotate(180)" x="-465.2" y="23">79</text></g>
<g id="n8" transform="rotate(199.71)"><text class="bs st" transform="rotate(180)" x="-434.4" y="23">8</text></g>
<g id="n25" transform="rotate(209.4)"><text class="bs st" transform="rotate(180)" x="-465.2" y="23">25</text></g>
<g id="n72" transform="rotate(218.02)"><text class="bs st" transform="rotate(180)" x="-465.2" y="23">72</text></g>
<g id="n31l" transform="rotate(235.26)"><text class="bs st" transform="rotate(180)" x="-465.2" y="23">31</text></g>
<g id="n68" transform="rotate(248.18)"><text class="bs st" transform="rotate(180)" x="-465.2" y="-8">68</text></g>
<g id="n31u" transform="rotate(244.95)"><text class="bs st" transform="rotate(180)" x="-434.4" y="-8">31</text></g>
<g id="n30" transform="rotate(240.1)"><text class="bs st" transform="rotate(180)" x="-403.6" y="-8">30</text></g>
<g id="n53" transform="rotate(234.45)"><text class="bs st" transform="rotate(180)" x="-372.8" y="-8">53</text></g>
<g id="n35u" transform="rotate(229.46)"><text class="bs st" transform="rotate(180)" x="-342" y="-8">35</text></g>
<g id="n9c" transform="rotate(223.74)"><text class="bs st" transform="rotate(180)" x="-311.2" y="-8">9</text></g>
<g id="n2" transform="rotate(216.57)"><text class="bs st" transform="rotate(180)" x="-280.4" y="-8">2</text></g>
<g id="n0" transform="rotate(208.14)"><text class="bs st" transform="rotate(180)" x="-249.6" y="-8">0</text></g>
</g>
</g>
</svg>
